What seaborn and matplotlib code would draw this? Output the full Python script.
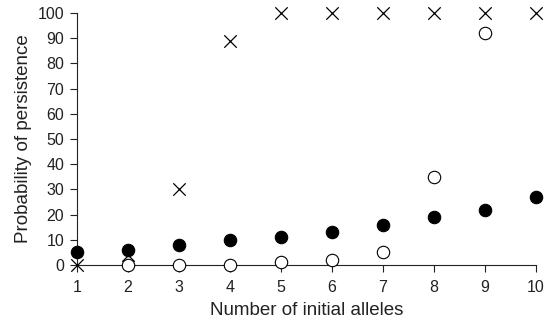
import matplotlib
matplotlib.use("Agg")
import matplotlib.pyplot as plt
import seaborn as sns
import pandas as pd

alleles = [1, 2, 3, 4, 5, 6, 7, 8, 9, 10]
filled_vals = [5, 6, 8, 10, 11, 13, 16, 19, 22, 27]
open_x = [2, 3, 4, 5, 6, 7, 8, 9]
open_vals = [0, 0, 0, 1, 2, 5, 35, 92]
cross_vals = [0, 4, 30, 89, 100, 100, 100, 100, 100, 100]
xticks = [1, 2, 3, 4, 5, 6, 7, 8, 9, 10]
yticks = [0, 10, 20, 30, 40, 50, 60, 70, 80, 90, 100]

sns.set_style("ticks")
plt.rcParams['font.family'] = ['Liberation Sans', 'DejaVu Sans']

fig = plt.figure(figsize=(5.49, 3.22), dpi=100)
ax = fig.add_axes([0.140, 0.177, 0.836, 0.783])

df_f = pd.DataFrame({"x": alleles, "y": filled_vals})
df_o = pd.DataFrame({"x": open_x, "y": open_vals})
df_c = pd.DataFrame({"x": alleles, "y": cross_vals})

sns.scatterplot(data=df_f, x="x", y="y", ax=ax, marker="o", s=80,
                color="black", edgecolor="black", linewidth=0.8, clip_on=False, zorder=3)
sns.scatterplot(data=df_o, x="x", y="y", ax=ax, marker="o", s=80,
                color="white", edgecolor="black", linewidth=0.8, clip_on=False, zorder=4)
sns.scatterplot(data=df_c, x="x", y="y", ax=ax, marker="x", s=80,
                color="black", linewidth=0.9, clip_on=False, zorder=5)

ax.set_xlim(1, 10)
ax.set_ylim(0, 100)
ax.set_xticks(xticks)
ax.set_yticks(yticks)
ax.set_xticklabels([str(v) for v in xticks])
ax.set_yticklabels([str(v) for v in yticks])
ax.tick_params(labelsize=11.5, colors="#222222", length=5, width=0.8, pad=4)
ax.tick_params(axis="x", pad=6)
ax.set_xlabel("Number of initial alleles", fontsize=13.5, color="#222222", labelpad=5)
ax.set_ylabel("Probability of persistence", fontsize=13.5, color="#222222", labelpad=4)
sns.despine(ax=ax)
for s in ["left", "bottom"]:
    ax.spines[s].set_linewidth(0.8)
    ax.spines[s].set_color("#222222")

fig.savefig("out.png", dpi=100)
